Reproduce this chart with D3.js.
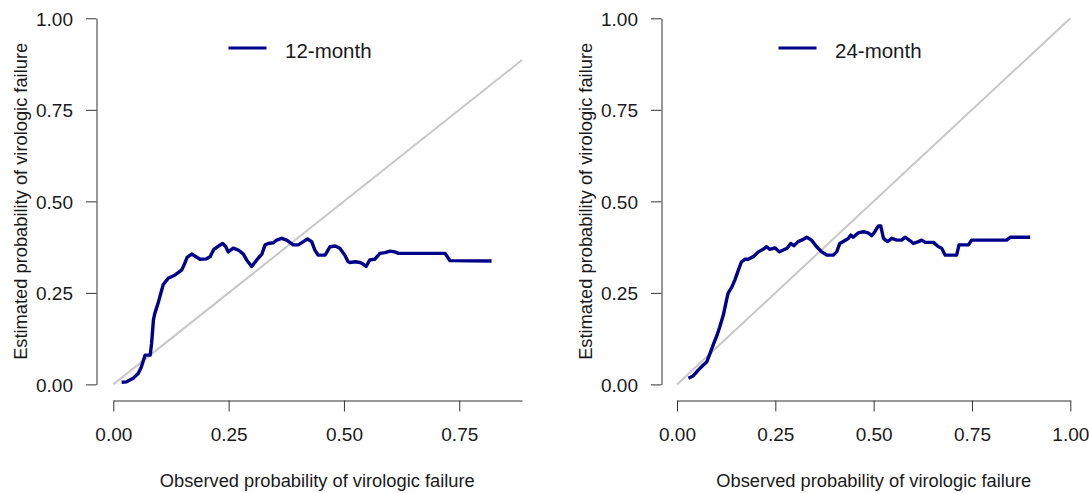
<!DOCTYPE html>
<html>
<head>
<meta charset="utf-8">
<script src="https://cdn.jsdelivr.net/npm/d3@7"></script>
<style>
  body { margin: 0; background: #fff; }
  svg { display: block; }
  text { font-family: "Liberation Sans", Arial, sans-serif; fill: #1a1a1a; }
</style>
</head>
<body>
<svg id="chart" width="1089" height="493"></svg>
<script>
// Calibration curves: observed vs. estimated probability of virologic failure
const obs12 = [0.018,0.029,0.043,0.054,0.061,0.069,0.080,0.083,0.087,0.090,0.098,0.105,0.108,0.119,0.134,0.148,0.155,0.160,0.170,0.188,0.202,0.210,0.218,0.228,0.237,0.244,0.249,0.260,0.271,0.282,0.289,0.300,0.311,0.322,0.329,0.336,0.347,0.354,0.365,0.376,0.390,0.401,0.412,0.421,0.430,0.437,0.444,0.459,0.470,0.481,0.491,0.502,0.509,0.513,0.524,0.535,0.542,0.548,0.556,0.567,0.578,0.589,0.600,0.610,0.618,0.719,0.730,0.820];
const est12 = [0.006,0.007,0.017,0.030,0.048,0.080,0.080,0.112,0.176,0.194,0.226,0.258,0.272,0.290,0.299,0.312,0.331,0.347,0.356,0.342,0.343,0.349,0.369,0.378,0.385,0.376,0.362,0.372,0.367,0.356,0.340,0.322,0.340,0.356,0.381,0.385,0.387,0.394,0.399,0.394,0.381,0.381,0.390,0.397,0.390,0.367,0.353,0.353,0.376,0.378,0.372,0.353,0.335,0.333,0.335,0.333,0.328,0.322,0.340,0.342,0.358,0.360,0.364,0.362,0.358,0.358,0.338,0.337];

const obs24 = [0.029,0.041,0.054,0.067,0.076,0.084,0.092,0.102,0.109,0.118,0.126,0.130,0.139,0.147,0.156,0.164,0.173,0.181,0.194,0.207,0.219,0.228,0.236,0.249,0.260,0.270,0.280,0.289,0.297,0.308,0.321,0.330,0.342,0.355,0.368,0.381,0.397,0.406,0.414,0.427,0.436,0.442,0.448,0.461,0.474,0.486,0.495,0.503,0.512,0.518,0.525,0.535,0.546,0.559,0.571,0.580,0.592,0.601,0.614,0.622,0.631,0.652,0.665,0.673,0.682,0.711,0.717,0.741,0.749,0.838,0.848,0.898];
const est24 = [0.017,0.023,0.039,0.053,0.062,0.085,0.108,0.135,0.158,0.190,0.231,0.249,0.265,0.285,0.312,0.335,0.342,0.342,0.349,0.362,0.369,0.376,0.369,0.373,0.362,0.367,0.372,0.385,0.379,0.390,0.396,0.402,0.394,0.376,0.362,0.353,0.353,0.362,0.385,0.393,0.399,0.408,0.402,0.414,0.417,0.414,0.406,0.417,0.433,0.433,0.399,0.390,0.399,0.394,0.394,0.402,0.393,0.385,0.390,0.394,0.388,0.388,0.376,0.372,0.353,0.353,0.381,0.381,0.394,0.394,0.402,0.402];

// Axis ticks and extents
const yTicks = [0, 0.25, 0.5, 0.75, 1];
const xTicks12 = [0, 0.25, 0.5, 0.75];
const xTicks24 = [0, 0.25, 0.5, 0.75, 1];
const xMax12 = 0.886;
const xMax24 = 1;
const seriesNames = ["12-month", "24-month"];

const xTitle = "Observed probability of virologic failure";
const yTitle = "Estimated probability of virologic failure";

// Panel layout
const panels = [
  { obs: obs12, est: est12, name: seriesNames[0], xMax: xMax12, xTicks: xTicks12,
    yAxisX: 96.5, x0: 113.3, ppu: 461.3, plotRight: 538, legendX: 228.5 },
  { obs: obs24, est: est24, name: seriesNames[1], xMax: xMax24, xTicks: xTicks24,
    yAxisX: 661.5, x0: 677, ppu: 393.3, plotRight: 1086, legendX: 778.5 }
];

const yBottom = 384.4, yTop = 18.3, xAxisY = 400.5;
const tickFont = 19, titleFont = 18.3, legendFont = 20.5;
const curveColor = "#00008b", diagColor = "#c8c8c8", axisColor = "#333";

const svg = d3.select("#chart");
const fmt = d3.format(".2f");

const y = d3.scaleLinear().domain([0, 1]).range([yBottom, yTop]);

panels.forEach(p => {
  const g = svg.append("g");
  const x = d3.scaleLinear().domain([0, p.xMax]).range([p.x0, p.x0 + p.xMax * p.ppu]);

  // x axis
  const gx = g.append("g")
    .attr("transform", `translate(0,${xAxisY})`)
    .call(d3.axisBottom(x).tickValues(p.xTicks).tickFormat(fmt)
      .tickSize(11).tickSizeOuter(0).tickPadding(14));
  gx.selectAll("text").attr("y", 40.5).attr("dy", null);

  // y axis
  const gy = g.append("g")
    .attr("transform", `translate(${p.yAxisX},0)`)
    .call(d3.axisLeft(y).tickValues(yTicks).tickFormat(fmt)
      .tickSize(10.5).tickSizeOuter(0).tickPadding(13));
  gy.selectAll("text").attr("dy", "0.36em");

  [gx, gy].forEach(ax => {
    ax.attr("font-size", null).attr("font-family", null);
    ax.selectAll("path, line").attr("stroke", axisColor).attr("stroke-width", 1);
    ax.selectAll("text").style("font-size", tickFont + "px").attr("fill", "#1a1a1a");
  });

  // reference diagonal
  g.append("line")
    .attr("x1", x(0)).attr("y1", y(0))
    .attr("x2", x(p.xMax)).attr("y2", y(p.xMax))
    .attr("stroke", diagColor).attr("stroke-width", 2);

  // calibration curve
  const pts = p.obs.map((o, i) => [o, p.est[i]]);
  g.append("path")
    .datum(pts)
    .attr("fill", "none")
    .attr("stroke", curveColor)
    .attr("stroke-width", 3.4)
    .attr("stroke-linejoin", "round")
    .attr("stroke-linecap", "butt")
    .attr("d", d3.line().x(d => x(d[0])).y(d => y(d[1])));

  // legend
  g.append("line")
    .attr("x1", p.legendX).attr("x2", p.legendX + 38)
    .attr("y1", 48).attr("y2", 48)
    .attr("stroke", curveColor).attr("stroke-width", 3);
  g.append("text")
    .attr("x", p.legendX + 56.5).attr("y", 57.5)
    .style("font-size", legendFont + "px")
    .text(p.name);

  // axis titles
  const cx = (p.yAxisX + p.plotRight) / 2;
  g.append("text")
    .attr("x", cx).attr("y", 487)
    .attr("text-anchor", "middle")
    .style("font-size", titleFont + "px")
    .text(xTitle);
  g.append("text")
    .attr("transform", `translate(${p.yAxisX - 70},${(yTop + yBottom) / 2}) rotate(-90)`)
    .attr("text-anchor", "middle")
    .style("font-size", titleFont + "px")
    .text(yTitle);
});
</script>
</body>
</html>
